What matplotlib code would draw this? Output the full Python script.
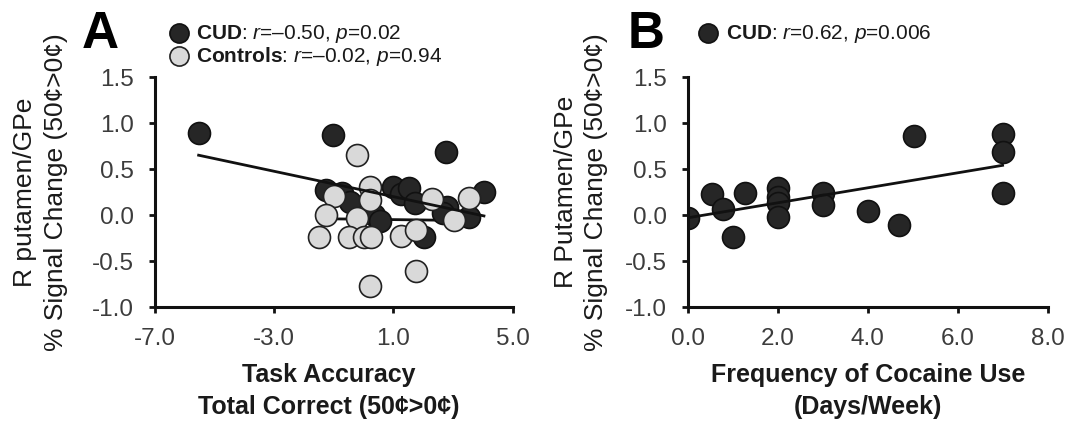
import numpy as np
import matplotlib
matplotlib.use("Agg")
from matplotlib import pyplot as plt
from matplotlib.ticker import FormatStrFormatter

plt.rcParams['font.family'] = ['Liberation Sans', 'DejaVu Sans']
plt.rcParams['mathtext.fontset'] = 'custom'
plt.rcParams['mathtext.rm'] = 'Liberation Sans'
plt.rcParams['mathtext.it'] = 'Liberation Sans:italic'
plt.rcParams['mathtext.bf'] = 'Liberation Sans:bold'
plt.rcParams['axes.unicode_minus'] = False

# panel A: task accuracy vs signal change
cud_acc = [-5.54, -1.03, 2.77, -1.25, -0.72, -0.45, 0.36, 0.56, 0.99, 1.26, 1.52, 1.74, 2.02, 2.80, 3.55, 4.04, 2.65]
cud_sig_a = [0.89, 0.87, 0.69, 0.27, 0.24, 0.14, 0.00, -0.07, 0.30, 0.23, 0.29, 0.13, -0.24, 0.09, -0.02, 0.25, 0.02]
ctl_acc = [-0.22, -1.01, -1.25, -0.22, 0.23, 0.23, -1.49, -0.48, 0.00, 0.25, 1.24, 1.77, 1.77, 0.23, 2.28, 3.03, 3.53]
ctl_sig = [0.65, 0.21, 0.00, -0.03, 0.30, 0.16, -0.24, -0.24, -0.24, -0.24, -0.23, -0.16, -0.61, -0.77, 0.17, -0.05, 0.18]
cud_fit_a_x = [-5.54, 4.04]
cud_fit_a_y = [0.65, -0.01]
ctl_fit_x = [-1.5, 3.5]
ctl_fit_y = [-0.04, -0.06]

# panel B: cocaine use frequency vs signal change
freq = [0.0, 0.53, 0.77, 1.0, 1.27, 2.0, 2.0, 2.0, 2.0, 3.0, 3.0, 4.0, 4.7, 5.02, 7.0, 7.0, 7.0]
cud_sig_b = [-0.03, 0.23, 0.06, -0.24, 0.24, 0.29, 0.20, 0.13, -0.02, 0.24, 0.11, 0.04, -0.11, 0.86, 0.88, 0.68, 0.24]
cud_fit_b_x = [0.0, 7.0]
cud_fit_b_y = [-0.03, 0.54]

dark = '#262626'
light = '#d9d9d9'
msize = 250
tick_col = '#3c3c3c'
txt_col = '#1a1a1a'

fig = plt.figure(figsize=(10.7, 4.22), dpi=100)
axA = fig.add_axes([0.145, 0.2725, 0.334, 0.545])
axB = fig.add_axes([0.643, 0.2725, 0.336, 0.545])


def style(ax):
    for s in ['top', 'right']:
        ax.spines[s].set_visible(False)
    for s in ['left', 'bottom']:
        ax.spines[s].set_linewidth(2.2)
        ax.spines[s].set_color('#111111')
    ax.tick_params(width=2, length=4, labelsize=17.5, direction='out', pad=11,
                   labelcolor=tick_col, color='#111111')
    ax.set_ylim(-1.0, 1.5)
    ax.set_yticks(np.arange(-1.0, 1.51, 0.5))
    ax.yaxis.set_major_formatter(FormatStrFormatter('%.1f'))
    ax.xaxis.set_major_formatter(FormatStrFormatter('%.1f'))


style(axA)
axA.plot(ctl_fit_x, ctl_fit_y, color='#111111', lw=2, zorder=1)
axA.scatter(cud_acc, cud_sig_a, s=msize, c=dark, edgecolors='#111111', linewidths=1.2, zorder=2)
axA.scatter(ctl_acc, ctl_sig, s=msize, c=light, edgecolors='#222222', linewidths=1.2, zorder=3)
axA.plot(cud_fit_a_x, cud_fit_a_y, color='#111111', lw=2, zorder=4)
axA.set_xlim(-7, 5)
axA.set_xticks([-7, -3, 1, 5])
axA.set_xlabel('Task Accuracy\nTotal Correct (50¢>0¢)', fontsize=18, fontweight='bold',
               linespacing=1.4, color=txt_col)
axA.set_ylabel('R putamen/GPe\n% Signal Change (50¢>0¢)', fontsize=19, linespacing=1.35,
               color=txt_col)
axA.xaxis.set_label_coords(0.485, -0.245)
axA.yaxis.set_label_coords(-0.244, 0.5)

style(axB)
axB.scatter(freq, cud_sig_b, s=msize, c=dark, edgecolors='#111111', linewidths=1.2, zorder=2)
axB.plot(cud_fit_b_x, cud_fit_b_y, color='#111111', lw=2, zorder=4)
axB.set_xlim(0, 8)
axB.set_xticks([0, 2, 4, 6, 8])
axB.set_xlabel('Frequency of Cocaine Use\n(Days/Week)', fontsize=18, fontweight='bold',
               linespacing=1.4, color=txt_col)
axB.set_ylabel('R Putamen/GPe\n% Signal Change (50¢>0¢)', fontsize=19, linespacing=1.35,
               color=txt_col)
axB.xaxis.set_label_coords(0.5, -0.245)
axB.yaxis.set_label_coords(-0.222, 0.5)

# panel letters (baseline at ~48 px from the top)
fig.text(0.076, 0.886, 'A', fontsize=37, fontweight='bold', va='baseline')
fig.text(0.587, 0.886, 'B', fontsize=37, fontweight='bold', va='baseline')

# legend-like annotations, placed in pixel coordinates
lg = fig.add_axes([0, 0, 1, 1], facecolor='none')
lg.set_xlim(0, 1070)
lg.set_ylim(422, 0)
lg.axis('off')
lg.scatter([179], [33], s=190, c=dark, edgecolors='#111111', linewidths=1.2)
lg.scatter([179], [56], s=190, c=light, edgecolors='#222222', linewidths=1.2)
lg.scatter([708], [33], s=190, c=dark, edgecolors='#111111', linewidths=1.2)
lg.text(196, 34, r'$\mathbf{CUD}$: $\mathit{r}$=–0.50, $\mathit{p}$=0.02', fontsize=15, va='center', color=txt_col)
lg.text(196, 57, r'$\mathbf{Controls}$: $\mathit{r}$=–0.02, $\mathit{p}$=0.94', fontsize=15, va='center', color=txt_col)
lg.text(726, 34, r'$\mathbf{CUD}$: $\mathit{r}$=0.62, $\mathit{p}$=0.006', fontsize=15, va='center', color=txt_col)

fig.savefig('out.png', dpi=100)
